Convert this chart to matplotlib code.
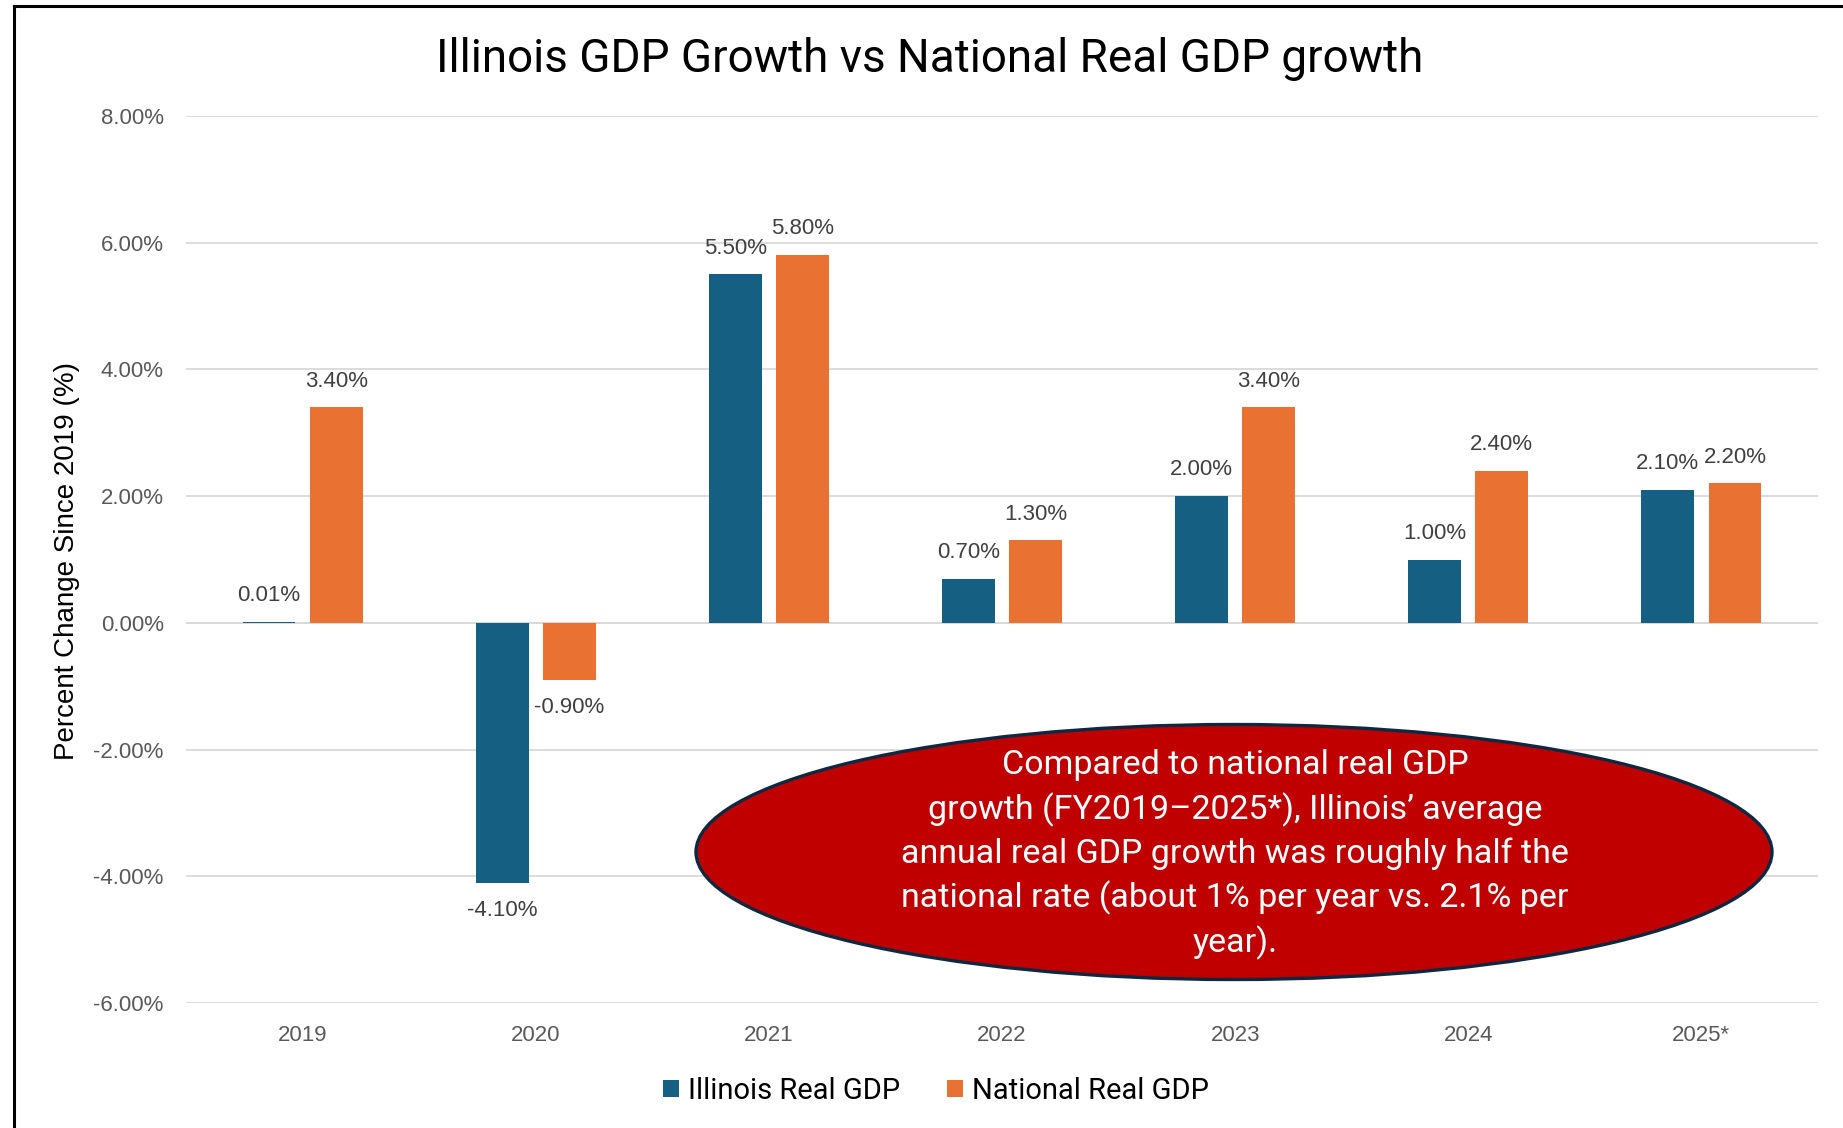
# Illinois GDP growth vs national real GDP growth, grouped bars
import matplotlib.pyplot as plt
from matplotlib.patches import Ellipse
from matplotlib.lines import Line2D
import numpy as np

years = ['2019', '2020', '2021', '2022', '2023', '2024', '2025*']
illinois = [0.01, -4.10, 5.50, 0.70, 2.00, 1.00, 2.10]
national = [3.40, -0.90, 5.80, 1.30, 3.40, 2.40, 2.20]
series_names = ['Illinois Real GDP', 'National Real GDP']

note_lines = ['Compared to national real GDP',
              'growth (FY2019\u20132025*), Illinois\u2019 average',
              'annual real GDP growth was roughly half the',
              'national rate (about 1% per year vs. 2.1% per',
              'year).']

W, H = 1843, 1128
fig = plt.figure(figsize=(W/100, H/100), dpi=100)
ax = fig.add_axes([186/W, 1 - 1003/H, (1818-186)/W, (1003-116)/H])

blue = '#156082'
orange = '#E97132'
lab_font = 'Liberation Sans'
office_font = 'Roboto'

x = np.arange(len(years))
bw = 0.227
off = 0.144
b1 = ax.bar(x - off, illinois, bw, color=blue, label=series_names[0], zorder=3)
b2 = ax.bar(x + off, national, bw, color=orange, label=series_names[1], zorder=3)

# data labels, outside end
for bars, vals in [(b1, illinois), (b2, national)]:
    for r, v in zip(bars, vals):
        cx = r.get_x() + r.get_width()/2
        dy = 19 if v >= 0 else -20
        ax.annotate(f'{v:.2f}%', (cx, v), xytext=(0, dy), textcoords='offset points',
                    ha='center', va='center', fontsize=16, color='#404040',
                    family=lab_font, zorder=4)

ax.set_xlim(-0.5, len(years) - 0.5)
ax.set_ylim(-6, 8)
ax.set_yticks(np.arange(-6, 9, 2))
ax.set_yticklabels([f'{t:.2f}%' for t in np.arange(-6, 9, 2)])
ax.set_xticks(x)
ax.set_xticklabels(years)
ax.tick_params(axis='both', length=0, labelsize=16, labelcolor='#595959')
ax.tick_params(axis='y', pad=16)
ax.tick_params(axis='x', pad=16)
for lab in ax.get_xticklabels() + ax.get_yticklabels():
    lab.set_family(lab_font)
ax.grid(axis='y', color='#D9D9D9', lw=1.3, zorder=0)
ax.axhline(0, color='#D9D9D9', lw=1.3, zorder=1)
for s in ax.spines.values():
    s.set_visible(False)

ax.set_ylabel('Percent Change Since 2019 (%)', fontsize=20, family=lab_font, color='black')
ax.yaxis.set_label_coords(80/W, 1 - 561/H, transform=fig.transFigure)

fig.text(930/W, 1 - 59/H, 'Illinois GDP Growth vs National Real GDP growth',
         ha='center', va='center', fontsize=33, family=office_font, color='black')

fig.legend(handles=[b1, b2], labels=series_names, loc='center',
           bbox_to_anchor=(936/W, 1 - 1091/H), ncol=2, frameon=False,
           prop={'family': office_font, 'size': 21},
           handlelength=0.55, handleheight=0.55, handletextpad=0.3, columnspacing=1.6)

# callout ellipse
ell = Ellipse((1234/W, 1 - 852/H), 1076/W, 255/H, transform=fig.transFigure,
              facecolor='#C00000', edgecolor='#0E2841', lw=2.4, zorder=10)
fig.add_artist(ell)
for i, line in enumerate(note_lines):
    fig.text(1235/W, 1 - (765 + i*44.4)/H, line, ha='center', va='center',
             fontsize=24.5, family=office_font, color='white', zorder=11)

# frame lines on the left and top
fig.add_artist(Line2D([13.5/W, 13.5/W], [0, 1 - 5.5/H], transform=fig.transFigure,
                      color='black', lw=2.2))
fig.add_artist(Line2D([13.5/W, 1], [1 - 5.5/H, 1 - 5.5/H], transform=fig.transFigure,
                      color='black', lw=2.2))

fig.savefig('out.png', dpi=100)
